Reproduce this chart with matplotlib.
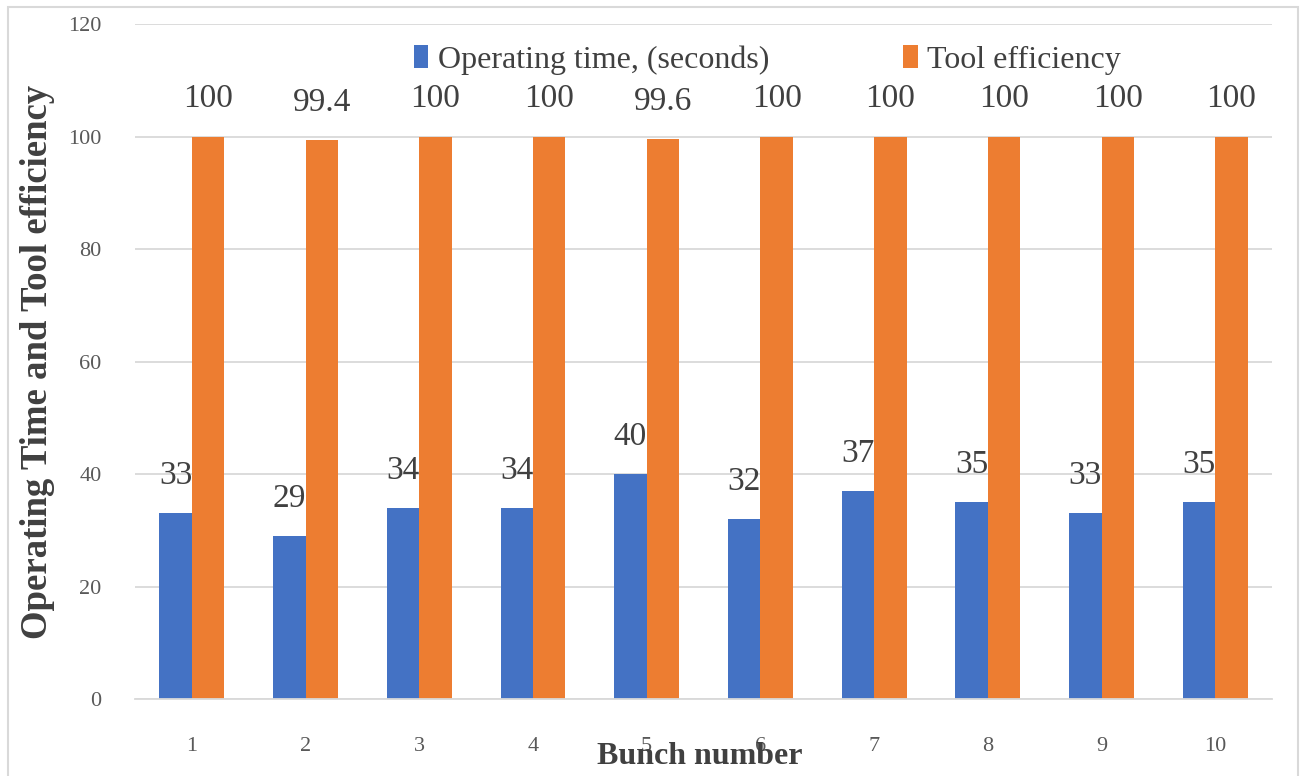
import matplotlib
matplotlib.use("Agg")
import matplotlib.pyplot as plt
import numpy as np
from matplotlib.patches import Rectangle

plt.rcParams['font.family'] = ['Liberation Serif', 'DejaVu Serif']

bunches = ['1', '2', '3', '4', '5', '6', '7', '8', '9', '10']
operating_time = [33, 29, 34, 34, 40, 32, 37, 35, 33, 35]
tool_efficiency = [100, 99.4, 100, 100, 99.6, 100, 100, 100, 100, 100]
time_labels = ['33', '29', '34', '34', '40', '32', '37', '35', '33', '35']
eff_labels = ['100', '99.4', '100', '100', '99.6', '100', '100', '100', '100', '100']

blue = '#4472C4'
orange = '#ED7D31'
grey = '#595959'

fig = plt.figure(figsize=(13.03, 7.76), dpi=100)
ax = fig.add_axes([0.1036, 0.0992, 0.8727, 0.8698])

x = np.arange(len(bunches))
w = 0.285
b1 = ax.bar(x - w/2, operating_time, w, color=blue, label='Operating time, (seconds)')
b2 = ax.bar(x + w/2, tool_efficiency, w, color=orange, label='Tool efficiency')

ax.bar_label(b1, labels=time_labels, padding=16, fontsize=24, color='#404040')
ax.bar_label(b2, labels=eff_labels, padding=16, fontsize=24, color='#404040')

ax.set_xlim(-0.5, len(bunches) - 0.5)
ax.set_ylim(0, 120)
ax.set_yticks(range(0, 121, 20))
ax.set_xticks(x)
ax.set_xticklabels(bunches)
ax.tick_params(axis='both', length=0, colors=grey, labelsize=16)
ax.tick_params(axis='y', pad=24)
ax.tick_params(axis='x', pad=27)
ax.grid(axis='y', color='#D9D9D9', linewidth=1.3)
ax.set_axisbelow(True)
for s in ['left', 'right', 'top']:
    ax.spines[s].set_visible(False)
ax.spines['bottom'].set_color('#D9D9D9')
ax.spines['bottom'].set_linewidth(1.3)

ax.set_ylabel('Operating Time and Tool efficiency', fontsize=26.5, fontweight='bold',
              color='#404040')
ax.yaxis.set_label_coords(-0.070, 0.5)
ax.set_xlabel('Bunch number', fontsize=23, fontweight='bold', color='#404040')
ax.xaxis.set_label_coords(0.497, -0.064)

ax.legend(loc='upper center', bbox_to_anchor=(0.556, 1.012), ncol=2, frameon=False,
          fontsize=23, handlelength=0.45, handleheight=0.75, handletextpad=0.3,
          columnspacing=4.2, labelcolor='#404040')

fig.patches.append(Rectangle((8/1303, -0.01), 1290/1303, 1 - 7/776 + 0.01,
                             transform=fig.transFigure, fill=False,
                             edgecolor='#D9D9D9', linewidth=1.5))

fig.savefig('out.png', dpi=100)
